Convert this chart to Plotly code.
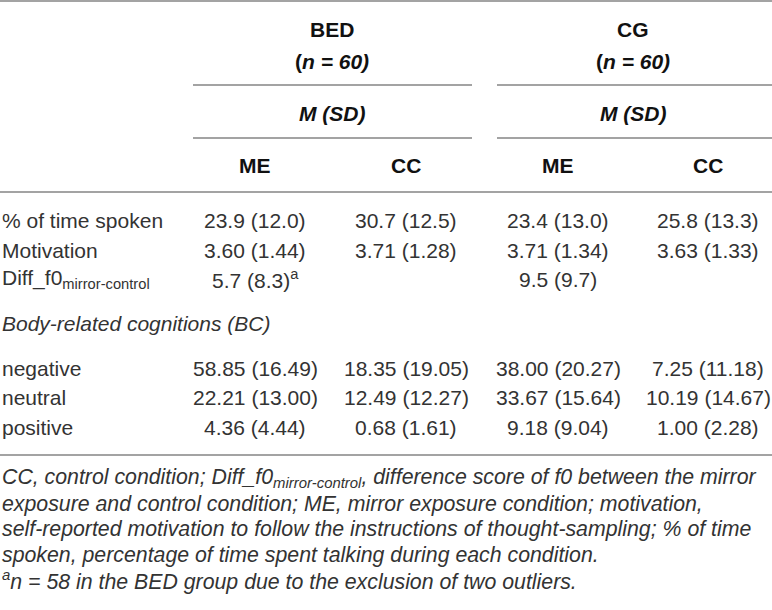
import plotly.graph_objects as go

# table content
groups = ["BED", "CG"]
group_n = ["(<i>n = 60)</i>", "(<i>n = 60)</i>"]
stat_label = "<i>M (SD)</i>"
conditions = ["ME", "CC", "ME", "CC"]

row_labels = ["% of time spoken", "Motivation", "Diff_f0<sub>mirror-control</sub>"]
time_spoken = ["23.9 (12.0)", "30.7 (12.5)", "23.4 (13.0)", "25.8 (13.3)"]
motivation = ["3.60 (1.44)", "3.71 (1.28)", "3.71 (1.34)", "3.63 (1.33)"]
diff_f0 = ["5.7 (8.3)<sup>a</sup>", "", "9.5 (9.7)", ""]

section_label = "<i>Body-related cognitions (BC)</i>"
bc_labels = ["negative", "neutral", "positive"]
bc_negative = ["58.85 (16.49)", "18.35 (19.05)", "38.00 (20.27)", "7.25 (11.18)"]
bc_neutral = ["22.21 (13.00)", "12.49 (12.27)", "33.67 (15.64)", "10.19 (14.67)"]
bc_positive = ["4.36 (4.44)", "0.68 (1.61)", "9.18 (9.04)", "1.00 (2.28)"]

footnotes = [
    "CC, control condition; Diff_f0<sub>mirror-control</sub>, difference score of f0 between the mirror",
    "exposure and control condition; ME, mirror exposure condition; motivation,",
    "self-reported motivation to follow the instructions of thought-sampling; % of time",
    "spoken, percentage of time spent talking during each condition.",
    "<sup>a</sup>n = 58 in the BED group due to the exclusion of two outliers.",
]

# layout (pixel coordinates, y downwards)
W, H = 772, 610
FONT = "Liberation Sans"
TXT = "#333333"
LINE = "#a3a3a3"
col_x = [255, 406, 558, 708]
group_x = [332, 633]
group_span = [(193, 472), (497, 772)]

ann = []


def add(x, y, text, anchor="center", size=21, color=TXT):
    ann.append(dict(x=x, y=y, xref="x", yref="y", text=text, showarrow=False,
                    xanchor=anchor, yanchor="middle",
                    font=dict(family=FONT, size=size, color=color)))


for gx, g, n in zip(group_x, groups, group_n):
    add(gx, 29, "<b>" + g + "</b>", color="#111")
    add(gx, 61, "<b>" + n + "</b>", color="#111")
    add(gx, 113, "<b>" + stat_label + "</b>", color="#111")
for cx, c in zip(col_x, conditions):
    add(cx, 165, "<b>" + c + "</b>", color="#111")

body = [(220, row_labels[0], time_spoken),
        (250, row_labels[1], motivation),
        (279, row_labels[2], diff_f0),
        (368, bc_labels[0], bc_negative),
        (397, bc_labels[1], bc_neutral),
        (427, bc_labels[2], bc_positive)]
for y, label, vals in body:
    add(0, y, label, anchor="left")
    for cx, v in zip(col_x, vals):
        if v:
            add(cx, y, v)
add(0, 323, section_label, anchor="left")

for i, line in enumerate(footnotes):
    add(0, 478 + i * 25.5, "<i>" + line + "</i>", anchor="left", size=21.3)

shapes = [
    dict(type="line", x0=0, x1=W, y0=1, y1=1),
    dict(type="line", x0=0, x1=W, y0=192, y1=192),
    dict(type="line", x0=0, x1=W, y0=455, y1=455),
]
for x0, x1 in group_span:
    shapes.append(dict(type="line", x0=x0, x1=x1, y0=85, y1=85))
    shapes.append(dict(type="line", x0=x0, x1=x1, y0=138, y1=138))
for s in shapes:
    s.update(xref="x", yref="y", line=dict(color=LINE, width=2))

fig = go.Figure()
fig.update_layout(
    width=W, height=H,
    margin=dict(l=0, r=0, t=0, b=0),
    paper_bgcolor="white", plot_bgcolor="white",
    xaxis=dict(range=[0, W], visible=False, fixedrange=True),
    yaxis=dict(range=[H, 0], visible=False, fixedrange=True),
    annotations=ann, shapes=shapes, showlegend=False,
)
fig.write_html("out.html", config={"displayModeBar": False},
               post_script="document.body.style.margin='0';document.body.style.overflow='hidden';")
